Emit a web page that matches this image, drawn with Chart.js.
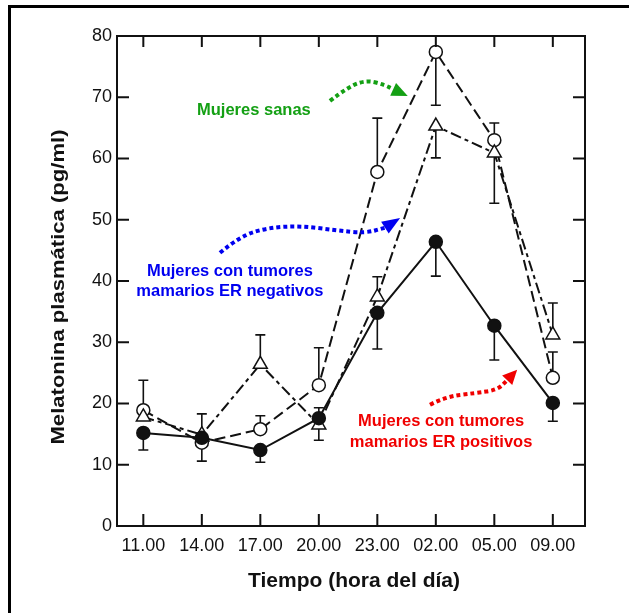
<!DOCTYPE html>
<html>
<head>
<meta charset="utf-8">
<script src="https://cdn.jsdelivr.net/npm/chart.js@4/dist/chart.umd.min.js"></script>
<style>
  html, body { margin: 0; padding: 0; background: #fff; }
  #wrap { position: relative; width: 629px; height: 613px; }
</style>
</head>
<body>
<div id="wrap"><canvas id="chart" width="629" height="613"></canvas></div>
<script>
// Tiempo (hora del día)
const hours = ['11.00', '14.00', '17.00', '20.00', '23.00', '02.00', '05.00', '09.00'];
const yTicks = [0, 10, 20, 30, 40, 50, 60, 70, 80];

// Mujeres sanas (círculo abierto, línea discontinua)
const sanas = [18.9, 13.6, 15.8, 23.0, 57.8, 77.4, 63.0, 24.2];
const sanasErr = [23.8, null, 18.0, 29.1, 66.6, 68.7, 65.8, 28.4];

// ER negativos (triángulo abierto)
const erNeg = [17.8, 14.9, 26.4, 16.5, 37.4, 65.3, 60.9, 31.2];
const erNegErr = [null, 18.3, 31.2, 14.0, 40.7, 60.1, 52.7, 36.4];

// ER positivos (círculo lleno, línea continua)
const erPos = [15.2, 14.4, 12.4, 17.6, 34.8, 46.4, 32.7, 20.1];
const erPosErr = [12.4, 10.6, 10.4, 19.3, 28.9, 40.8, 27.1, 17.1];

// Etiquetas y flechas (en unidades de datos)
const greenLabel = { text: ['Mujeres sanas'], x: 1.89, y: 67.9, color: '#14a014' };
const blueLabel = { text: ['Mujeres con tumores', 'mamarios ER negativos'], x: 1.48, y: 41.6, color: '#0000f0' };
const redLabel = { text: ['Mujeres con tumores', 'mamarios ER positivos'], x: 5.09, y: 17.0, color: '#f00000' };
const greenArrow = [[3.19, 69.4], [3.50, 71.7], [3.82, 72.8], [4.13, 72.0], [4.27, 71.3], [4.52, 70.2]];
const blueArrow = [[1.31, 44.6], [1.65, 47.3], [2.13, 48.7], [2.68, 49.0], [3.28, 48.3], [3.79, 47.8], [4.13, 48.7], [4.39, 50.3]];
const redArrow = [[4.90, 19.8], [5.16, 21.1], [5.67, 21.7], [6.05, 22.2], [6.22, 23.8], [6.39, 25.5]];

const xTitle = 'Tiempo (hora del día)';
const yTitle = 'Melatonina plasmática (pg/ml)';

const FONT = "'Liberation Sans', Arial, sans-serif";

function toPoints(values) {
  return values.map((v, i) => ({ x: i, y: v }));
}

// barras de error de un solo lado
const errorBars = {
  id: 'errorBars',
  beforeDatasetsDraw(chart) {
    const ctx = chart.ctx;
    const xs = chart.scales.x, ys = chart.scales.y;
    const sets = [[sanas, sanasErr], [erNeg, erNegErr], [erPos, erPosErr]];
    ctx.save();
    ctx.strokeStyle = '#111';
    ctx.lineWidth = 1.6;
    sets.forEach(([vals, ends]) => {
      ends.forEach((e, i) => {
        if (e === null) return;
        const px = xs.getPixelForValue(i);
        const p0 = ys.getPixelForValue(vals[i]);
        const p1 = ys.getPixelForValue(e);
        ctx.beginPath();
        ctx.moveTo(px, p0);
        ctx.lineTo(px, p1);
        ctx.moveTo(px - 5, p1);
        ctx.lineTo(px + 5, p1);
        ctx.stroke();
      });
    });
    ctx.restore();
  }
};

function drawArrow(ctx, chart, pts, color) {
  const xs = chart.scales.x, ys = chart.scales.y;
  const p = pts.map(([x, y]) => [xs.getPixelForValue(x), ys.getPixelForValue(y)]);
  const body = p.slice(0, p.length - 1);
  ctx.save();
  ctx.strokeStyle = color;
  ctx.fillStyle = color;
  ctx.lineWidth = 4;
  ctx.setLineDash([4, 3]);
  ctx.beginPath();
  ctx.moveTo(body[0][0], body[0][1]);
  for (let i = 1; i < body.length - 1; i++) {
    const mx = (body[i][0] + body[i + 1][0]) / 2, my = (body[i][1] + body[i + 1][1]) / 2;
    ctx.quadraticCurveTo(body[i][0], body[i][1], mx, my);
  }
  ctx.lineTo(body[body.length - 1][0], body[body.length - 1][1]);
  ctx.stroke();
  // punta
  const b = body[body.length - 1], t = p[p.length - 1];
  const ang = Math.atan2(t[1] - b[1], t[0] - b[0]);
  const len = Math.hypot(t[0] - b[0], t[1] - b[1]);
  const w = 7;
  ctx.setLineDash([]);
  ctx.beginPath();
  ctx.moveTo(t[0], t[1]);
  ctx.lineTo(t[0] - len * Math.cos(ang) - w * Math.sin(ang), t[1] - len * Math.sin(ang) + w * Math.cos(ang));
  ctx.lineTo(t[0] - len * Math.cos(ang) + w * Math.sin(ang), t[1] - len * Math.sin(ang) - w * Math.cos(ang));
  ctx.closePath();
  ctx.fill();
  ctx.restore();
}

function drawLabel(ctx, chart, lab) {
  const xs = chart.scales.x, ys = chart.scales.y;
  const cx = xs.getPixelForValue(lab.x), cy = ys.getPixelForValue(lab.y);
  ctx.save();
  ctx.fillStyle = lab.color;
  ctx.font = 'bold 16.5px ' + FONT;
  ctx.textAlign = 'center';
  ctx.textBaseline = 'middle';
  lab.text.forEach((line, i) => ctx.fillText(line, cx, cy + i * 20.5));
  ctx.restore();
}

// títulos de ejes dibujados a mano (el del eje y va un poco estirado como en el original)
function drawTitles(ctx, chart) {
  const a = chart.chartArea;
  ctx.save();
  ctx.fillStyle = '#111';
  ctx.font = 'bold 21px ' + FONT;
  ctx.textAlign = 'center';
  ctx.textBaseline = 'alphabetic';
  ctx.fillText(xTitle, (a.left + a.right) / 2 + 3, 587);

  ctx.font = 'bold 19px ' + FONT;
  const w = ctx.measureText(yTitle).width;
  ctx.translate(64, (a.top + a.bottom) / 2 + 6);
  ctx.rotate(-Math.PI / 2);
  ctx.scale(315 / w, 1);
  ctx.fillText(yTitle, 0, 0);
  ctx.restore();
}

const frameAndTicks = {
  id: 'frameAndTicks',
  beforeDraw(chart) {
    const ctx = chart.ctx;
    ctx.save();
    ctx.fillStyle = '#fff';
    ctx.fillRect(0, 0, chart.width, chart.height);
    ctx.fillStyle = '#000';
    ctx.fillRect(8, 5, 3, chart.height - 5);
    ctx.fillRect(8, 5, chart.width - 8, 3);
    ctx.restore();
  },
  afterDraw(chart) {
    const ctx = chart.ctx;
    const a = chart.chartArea;
    const xs = chart.scales.x, ys = chart.scales.y;
    ctx.save();
    ctx.strokeStyle = '#111';
    ctx.lineWidth = 2;
    ctx.strokeRect(a.left, a.top, a.right - a.left, a.bottom - a.top);
    ctx.beginPath();
    yTicks.forEach(v => {
      const py = ys.getPixelForValue(v);
      ctx.moveTo(a.left, py); ctx.lineTo(a.left + 12, py);
      ctx.moveTo(a.right, py); ctx.lineTo(a.right - 12, py);
    });
    hours.forEach((h, i) => {
      const px = xs.getPixelForValue(i);
      ctx.moveTo(px, a.bottom); ctx.lineTo(px, a.bottom - 12);
      ctx.moveTo(px, a.top); ctx.lineTo(px, a.top + 11);
    });
    ctx.stroke();
    ctx.restore();
    drawArrow(ctx, chart, greenArrow, '#14a014');
    drawArrow(ctx, chart, blueArrow, '#0000f0');
    drawArrow(ctx, chart, redArrow, '#f00000');
    drawLabel(ctx, chart, greenLabel);
    drawLabel(ctx, chart, blueLabel);
    drawLabel(ctx, chart, redLabel);
    drawTitles(ctx, chart);
  }
};

new Chart(document.getElementById('chart'), {
  type: 'line',
  data: {
    datasets: [
      {
        label: 'Mujeres con tumores mamarios ER positivos',
        data: toPoints(erPos),
        borderColor: '#111',
        borderWidth: 2,
        pointStyle: 'circle',
        pointRadius: 6.5,
        pointBackgroundColor: '#111',
        pointBorderColor: '#111',
        pointBorderWidth: 1.5
      },
      {
        label: 'Mujeres con tumores mamarios ER negativos',
        data: toPoints(erNeg),
        borderColor: '#111',
        borderWidth: 2,
        borderDash: [11, 4, 4, 4],
        pointStyle: 'triangle',
        pointRadius: 8,
        pointBackgroundColor: '#fff',
        pointBorderColor: '#111',
        pointBorderWidth: 1.5
      },
      {
        label: 'Mujeres sanas',
        data: toPoints(sanas),
        borderColor: '#111',
        borderWidth: 2,
        borderDash: [11, 5],
        pointStyle: 'circle',
        pointRadius: 6.5,
        pointBackgroundColor: '#fff',
        pointBorderColor: '#111',
        pointBorderWidth: 1.5
      }
    ]
  },
  options: {
    responsive: false,
    animation: false,
    layout: { padding: { left: 0, right: 44, top: 36, bottom: 0 } },
    plugins: { legend: { display: false }, tooltip: { enabled: false } },
    scales: {
      x: {
        type: 'linear',
        min: -0.45,
        max: 7.55,
        afterBuildTicks: s => { s.ticks = hours.map((h, i) => ({ value: i })); },
        afterFit: s => { s.height = 87; },
        grid: { display: false, drawTicks: false },
        border: { display: false },
        ticks: {
          autoSkip: false,
          maxRotation: 0,
          padding: 9,
          color: '#111',
          font: { family: FONT, size: 18 },
          callback: v => hours[v]
        }
      },
      y: {
        min: 0,
        max: 80,
        afterBuildTicks: s => { s.ticks = yTicks.map(v => ({ value: v })); },
        afterFit: s => { s.width = 117; },
        grid: { display: false, drawTicks: false },
        border: { display: false },
        ticks: {
          padding: 5,
          color: '#111',
          font: { family: FONT, size: 18 }
        }
      }
    }
  },
  plugins: [frameAndTicks, errorBars]
});
</script>
</body>
</html>
